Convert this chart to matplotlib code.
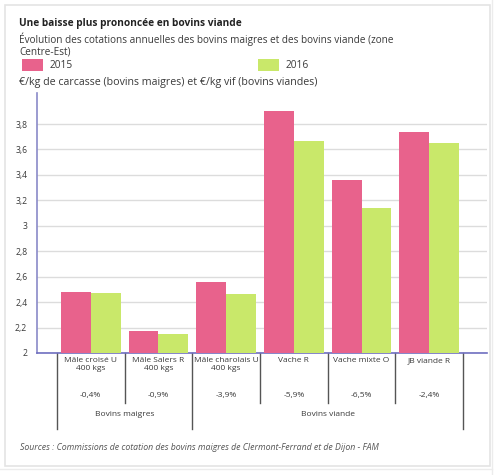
import matplotlib
matplotlib.use("Agg")
import numpy as np
import matplotlib.pyplot as plt
from matplotlib.patches import Rectangle
import matplotlib.transforms as mtransforms

# ── Data ──────────────────────────────────────────────────────────────────────
categories = ["Mâle croisé U\n400 kgs", "Mâle Salers R\n400 kgs",
              "Mâle charolais U\n400 kgs", "Vache R", "Vache mixte O", "JB viande R"]
changes = ["-0,4%", "-0,9%", "-3,9%", "-5,9%", "-6,5%", "-2,4%"]
values_2015 = [2.48, 2.17, 2.56, 3.90, 3.36, 3.74]
values_2016 = [2.47, 2.15, 2.46, 3.67, 3.14, 3.65]
groups = [("Bovins maigres", 0, 2), ("Bovins viande", 2, 6)]  # label, first, last boundary
yticks = [2, 2.2, 2.4, 2.6, 2.8, 3, 3.2, 3.4, 3.6, 3.8]

PINK = "#E8628C"
GREEN = "#C9E86A"
TEXT = "#3a3a3a"

plt.rcParams["font.family"] = ["Open Sans", "DejaVu Sans"]

W, H = 500, 475
fig = plt.figure(figsize=(W / 100, H / 100), dpi=100)


def px(x, y):
    """pixel coords (top-left origin) -> figure fraction"""
    return x / W, 1 - y / H


# card frame + faint page edge
fig.patches.append(Rectangle(px(5, 466), 485 / W, 461 / H, transform=fig.transFigure,
                             facecolor="none", edgecolor="#e4e4e4", lw=1.2, zorder=-1))
fig.add_artist(plt.Line2D([492 / W, 492 / W], [0, 1], color="#ececec", lw=1))
fig.add_artist(plt.Line2D([0, 492 / W], [1 - 469 / H, 1 - 469 / H], color="#ececec", lw=1))

# ── Axes ──────────────────────────────────────────────────────────────────────
left, right, top, bottom = 37, 487, 93, 353
ax = fig.add_axes([left / W, 1 - bottom / H, (right - left) / W, (bottom - top) / H])
ax.patch.set_alpha(0)

x = np.arange(len(categories))
bw = 0.44
ax.bar(x - bw / 2, values_2015, bw, color=PINK, zorder=3)
ax.bar(x + bw / 2, values_2016, bw, color=GREEN, zorder=3)

ax.set_xlim(-0.5 - 20 / 68, 5.5 + 24 / 68)
ax.set_ylim(2, 2 + 260 / 127.2)
ax.set_yticks(yticks)
ax.set_yticklabels([f"{v:g}".replace(".", ",") for v in yticks], fontsize=6.2, color=TEXT)
ax.set_xticks([])
ax.tick_params(axis="y", length=0, pad=7)
ax.grid(axis="y", color="#dcdcdc", lw=1, zorder=0)
for s in ["top", "right"]:
    ax.spines[s].set_visible(False)
ax.spines["left"].set_color("#8a8ac8")
ax.spines["bottom"].set_color("#6f6fc0")
ax.spines["left"].set_linewidth(1.2)
ax.spines["bottom"].set_linewidth(1.2)

# ── Category table below the axis ─────────────────────────────────────────────
trans = mtransforms.blended_transform_factory(ax.transData, ax.transAxes)
ah = bottom - top
outer = {0, 2, 6}
for b in range(len(categories) + 1):
    depth = 76 if b in outer else 50
    ax.plot([b - 0.5, b - 0.5], [0, -depth / ah], color="#555555", lw=1,
            transform=trans, clip_on=False)

for i, (cat, ch) in enumerate(zip(categories, changes)):
    ax.text(i, -4 / ah, cat, transform=trans, ha="center", va="top",
            fontsize=6.0, color=TEXT, linespacing=1.2)
    ax.text(i, -43 / ah, ch, transform=trans, ha="center", va="center",
            fontsize=6.0, color=TEXT)

for label, a, b in groups:
    ax.text((a + b) / 2 - 0.5, -61 / ah, label, transform=trans, ha="center",
            va="center", fontsize=6.0, color=TEXT)

# ── Titles and legend ─────────────────────────────────────────────────────────
fig.text(*px(19, 23.5), "Une baisse plus prononcée en bovins viande", fontsize=7.3,
         fontweight="bold", color="#222222", va="center")
fig.text(*px(19, 32), "Évolution des cotations annuelles des bovins maigres et des bovins viande (zone\nCentre-Est)",
         fontsize=7.2, color=TEXT, va="top", linespacing=1.1)

for xr, col, lab in [(22, PINK, "2015"), (258, GREEN, "2016")]:
    fig.patches.append(Rectangle(px(xr, 71), 21 / W, 12 / H, transform=fig.transFigure,
                                 facecolor=col, edgecolor="none"))
    fig.text(*px(xr + 28, 66), lab, fontsize=7.3, color=TEXT, va="center")

fig.text(*px(19, 83), "€/kg de carcasse (bovins maigres) et €/kg vif (bovins viandes)",
         fontsize=7.7, color=TEXT, va="center")

fig.text(*px(20, 448), "Sources : Commissions de cotation des bovins maigres de Clermont-Ferrand et de Dijon - FAM",
         fontsize=6.3, style="italic", color="#555555", va="center")

fig.savefig("out.png", dpi=100)
